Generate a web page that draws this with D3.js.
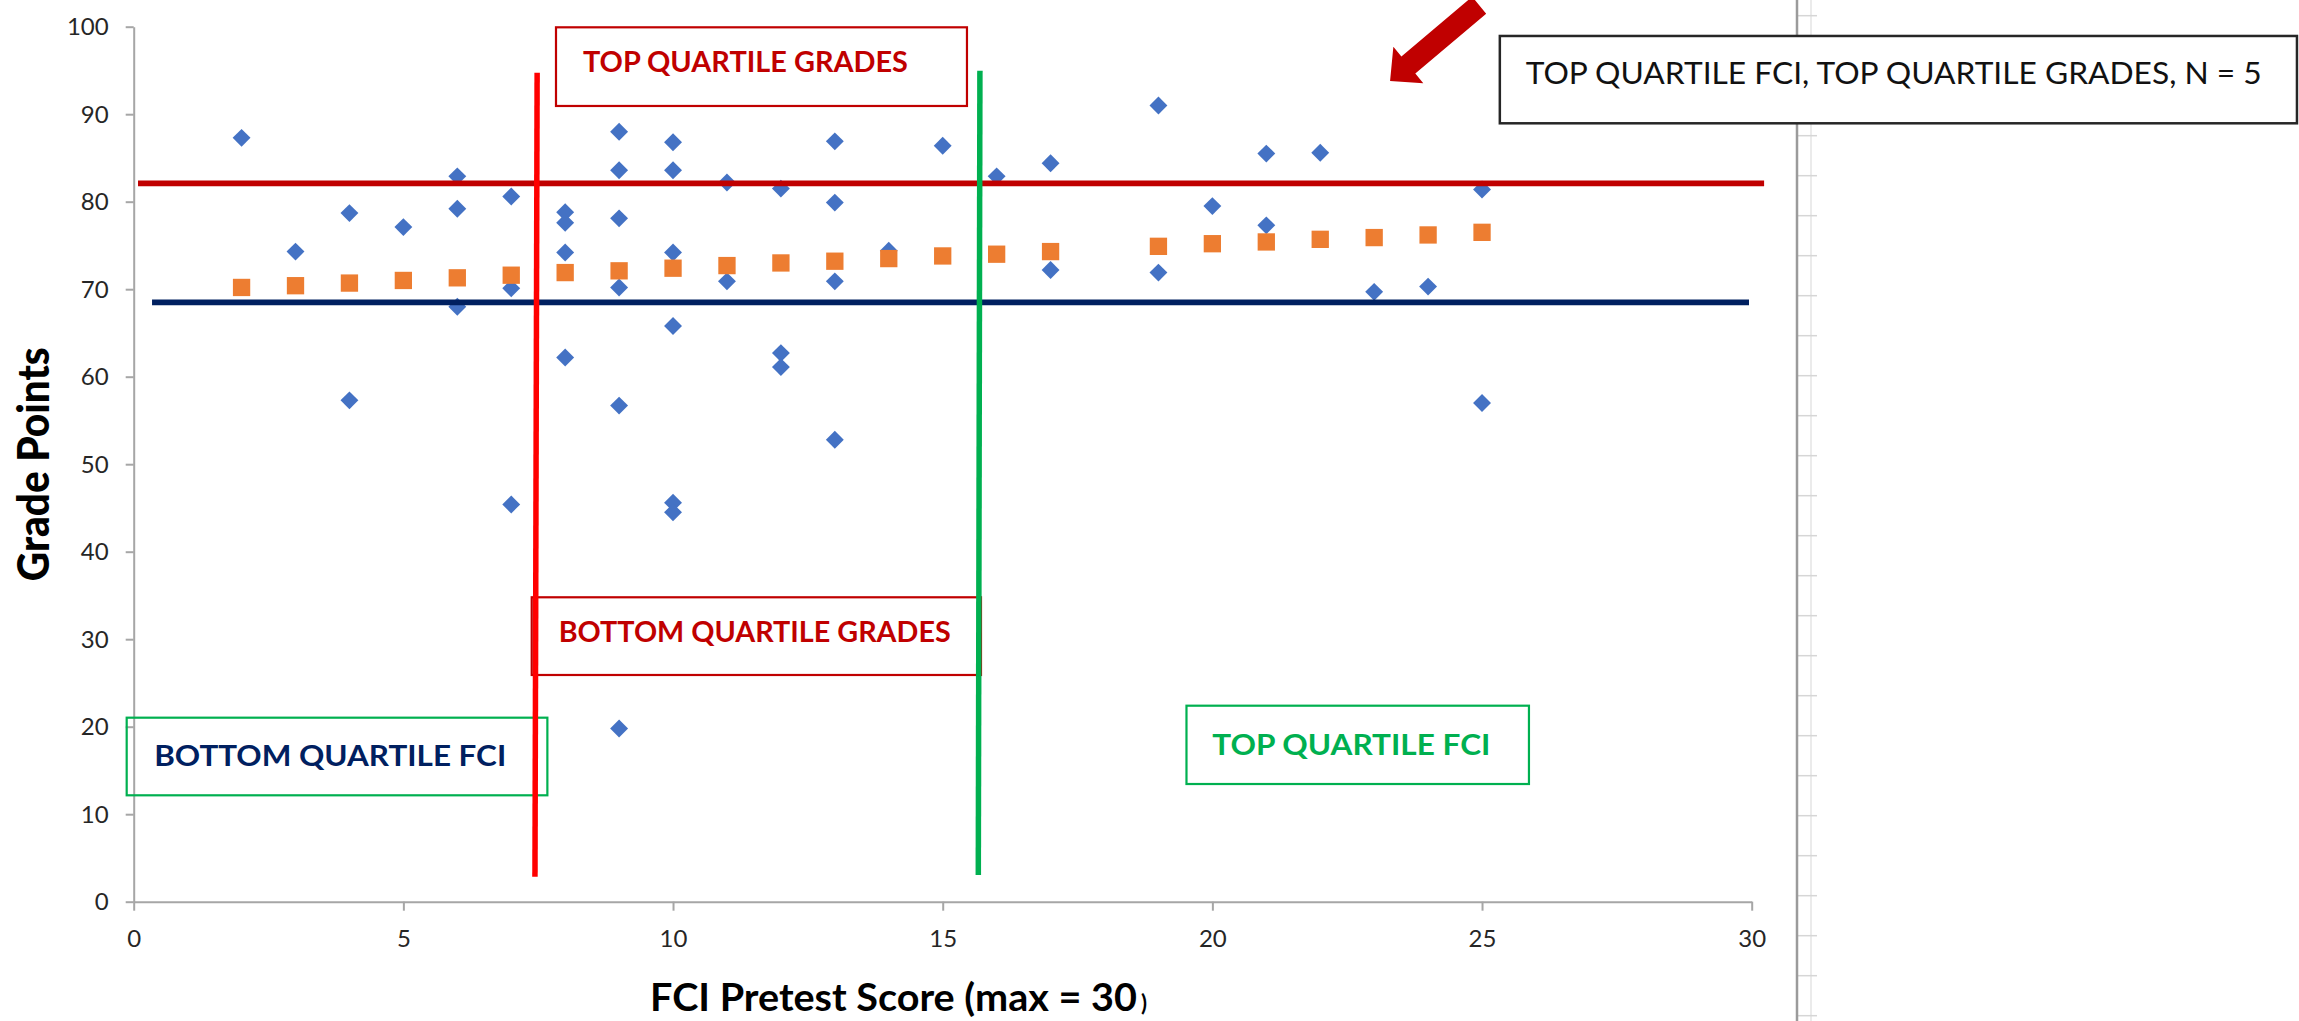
<!DOCTYPE html>
<html>
<head>
<meta charset="utf-8">
<script src="https://cdn.jsdelivr.net/npm/d3@7"></script>
<style>
  html, body { margin: 0; padding: 0; background: #ffffff; }
  svg { display: block; }
</style>
</head>
<body>
<svg id="chart" width="2299" height="1021"></svg>
<script>
// FCI pretest score and course grade points, one entry per student
const fciScores = [2,3,4,4,5,6,6,6,7,7,7,8,8,8,8,9,9,9,9,9,9,10,10,10,10,10,10,11,11,12,12,12,13,13,13,13,14,15,16,17,17,19,19,20,21,21,22,23,24,25,25];
const gradePoints = [87.3,74.3,78.7,57.3,77.1,82.9,79.2,68.0,80.6,70.1,45.4,78.8,77.6,74.2,62.2,88.0,83.6,78.1,70.2,56.7,19.8,86.8,83.6,74.2,65.8,45.6,44.5,82.2,70.9,81.5,62.7,61.1,86.9,79.9,70.9,52.8,74.4,86.4,82.9,84.4,72.2,91.0,71.9,79.5,85.5,77.3,85.6,69.7,70.3,81.4,57.0];

// Linear-fit grade at each observed pretest score
const trendScores = [2,3,4,5,6,7,8,9,10,11,12,13,14,15,16,17,19,20,21,22,23,24,25];
const trendGrades = [70.2,70.4,70.7,71.0,71.3,71.6,71.9,72.1,72.4,72.7,73.0,73.2,73.5,73.8,74.0,74.3,74.9,75.2,75.4,75.7,75.9,76.2,76.5];

// Quartile cut-offs: grades (top, bottom) and FCI pretest (bottom, top)
const gradeCutoffs = [82.1, 68.5];
const fciCutoffs = [7.48, 15.69];

// Axis ticks
const xTicks = [0, 5, 10, 15, 20, 25, 30];
const yTicks = [0, 10, 20, 30, 40, 50, 60, 70, 80, 90, 100];

// Text
const quadrantLabels = ["TOP QUARTILE GRADES", "BOTTOM QUARTILE GRADES", "BOTTOM QUARTILE FCI", "TOP QUARTILE FCI"];
const calloutLabel = "TOP QUARTILE FCI, TOP QUARTILE GRADES, N = 5";
const xTitle = ["FCI Pretest Score (max = 30", ")"];
const yTitle = "Grade Points";

const svg = d3.select("#chart");
const FONT = "Lato, 'Open Sans', sans-serif";

const x = d3.scaleLinear().domain([0, 30]).range([133.7, 1751.7]);
const y = d3.scaleLinear().domain([0, 100]).range([901.7, 26.7]);

// Worksheet edge to the right of the chart object
const sheet = svg.append("g");
sheet.append("line").attr("x1", 1811).attr("x2", 1811).attr("y1", 0).attr("y2", 1021)
  .attr("stroke", "#e4e4e4").attr("stroke-width", 1.5);
sheet.selectAll("line.row").data(d3.range(15.7, 1021, 40)).join("line").attr("class", "row")
  .attr("x1", 1797).attr("x2", 1817).attr("y1", d => d).attr("y2", d => d)
  .attr("stroke", "#d6d6d6").attr("stroke-width", 1.5);
sheet.append("line").attr("x1", 1797).attr("x2", 1797).attr("y1", 0).attr("y2", 1021)
  .attr("stroke", "#9b9b9b").attr("stroke-width", 2.5);

// Axes
const xAxis = svg.append("g").attr("transform", `translate(0,${y(0)})`)
  .call(d3.axisBottom(x).tickValues(xTicks).tickSize(9).tickSizeOuter(0).tickFormat(d3.format("d")));
const yAxis = svg.append("g").attr("transform", `translate(${x(0)},0)`)
  .call(d3.axisLeft(y).tickValues(yTicks).tickSize(8).tickSizeOuter(0).tickFormat(d3.format("d")));

[xAxis, yAxis].forEach(g => {
  g.select(".domain").attr("stroke", "#a6a6a6").attr("stroke-width", 2);
  g.selectAll(".tick line").attr("stroke", "#a6a6a6").attr("stroke-width", 2);
  g.selectAll(".tick text").attr("fill", "#262626").attr("font-family", FONT).attr("font-size", 24);
});
xAxis.selectAll(".tick text").attr("y", 45).attr("dy", 0);
yAxis.selectAll(".tick text").attr("x", -25).attr("dy", "0.34em");

// Student grades (blue diamonds)
const diamond = d3.symbol(d3.symbolSquare, 160);
svg.append("g").selectAll("path").data(fciScores).join("path")
  .attr("d", diamond)
  .attr("transform", (d, i) => `translate(${x(d)},${y(gradePoints[i])}) rotate(45)`)
  .attr("fill", "#4472c4");

// Trend (orange squares)
const square = d3.symbol(d3.symbolSquare, 300);
svg.append("g").selectAll("path").data(trendScores).join("path")
  .attr("d", square)
  .attr("transform", (d, i) => `translate(${x(d)},${y(trendGrades[i])})`)
  .attr("fill", "#ed7d31");

// Quadrant label boxes, placed in data units
const boxes = [
  { x0: 7.83, x1: 15.45, y0: 99.93, y1: 90.94, tx: 8.33, ty: 94.86, len: 325, stroke: "#c00000", color: "#c00000" },
  { x0: 7.38, x1: 15.71, y0: 34.79, y1: 25.91, tx: 7.88, ty: 29.65, len: 392, stroke: "#c00000", color: "#c00000" },
  { x0: -0.13, x1: 7.67, y0: 21.03, y1: 12.16, tx: 0.38, ty: 15.51, len: 352, stroke: "#00b050", color: "#002060" },
  { x0: 19.52, x1: 25.87, y0: 22.4, y1: 13.45, tx: 20.0, ty: 16.77, len: 278, stroke: "#00b050", color: "#00b050" }
];
const boxG = svg.append("g");
boxes.forEach((b, i) => {
  boxG.append("rect")
    .attr("x", x(b.x0)).attr("y", y(b.y0))
    .attr("width", x(b.x1) - x(b.x0)).attr("height", y(b.y1) - y(b.y0))
    .attr("fill", "none").attr("stroke", b.stroke).attr("stroke-width", 2.2);
  boxG.append("text")
    .attr("x", x(b.tx)).attr("y", y(b.ty))
    .attr("font-family", FONT).attr("font-weight", 700).attr("font-size", 29)
    .attr("fill", b.color)
    .attr("textLength", b.len).attr("lengthAdjust", "spacingAndGlyphs")
    .text(quadrantLabels[i]);
});

// Quartile cut-off lines
const lineG = svg.append("g").attr("stroke-linecap", "butt");
lineG.append("line")
  .attr("x1", x(0.08)).attr("x2", x(30.23)).attr("y1", y(gradeCutoffs[0])).attr("y2", y(gradeCutoffs[0]))
  .attr("stroke", "#c00000").attr("stroke-width", 5.7);
lineG.append("line")
  .attr("x1", x(0.34)).attr("x2", x(29.95)).attr("y1", y(gradeCutoffs[1])).attr("y2", y(gradeCutoffs[1]))
  .attr("stroke", "#002060").attr("stroke-width", 5.7);
lineG.append("line")
  .attr("x1", x(fciCutoffs[0])).attr("x2", x(fciCutoffs[0] - 0.04)).attr("y1", y(94.74)).attr("y2", y(2.86))
  .attr("stroke", "#ff0000").attr("stroke-width", 5.5);
lineG.append("line")
  .attr("x1", x(fciCutoffs[1])).attr("x2", x(fciCutoffs[1] - 0.03)).attr("y1", y(94.97)).attr("y2", y(3.05))
  .attr("stroke", "#00b050").attr("stroke-width", 5.5);

// Callout box and arrow
const callout = svg.append("g");
callout.append("rect")
  .attr("x", x(25.33)).attr("y", y(98.94))
  .attr("width", x(40.11) - x(25.33)).attr("height", y(88.96) - y(98.94))
  .attr("fill", "#ffffff").attr("stroke", "#262626").attr("stroke-width", 2.5);
callout.append("text")
  .attr("x", x(25.81)).attr("y", y(93.45))
  .attr("font-family", FONT).attr("font-size", 31).attr("fill", "#111111")
  .attr("textLength", 736).attr("lengthAdjust", "spacingAndGlyphs")
  .text(calloutLabel);

const arrowPts = [[23.295, 93.79], [23.356, 97.71], [23.505, 96.59], [24.817, 103.43],
                  [25.077, 101.49], [23.763, 94.65], [23.911, 93.53]];
callout.append("path")
  .attr("d", d3.line().x(p => x(p[0])).y(p => y(p[1]))(arrowPts) + "Z")
  .attr("fill", "#c00000");

// Axis titles
const xt = svg.append("text")
  .attr("x", 650).attr("y", 1011)
  .attr("font-family", FONT).attr("font-weight", 700).attr("fill", "#000000");
xt.append("tspan").attr("font-size", 39)
  .attr("textLength", 487).attr("lengthAdjust", "spacingAndGlyphs")
  .text(xTitle[0]);
xt.append("tspan").attr("font-size", 22).attr("dx", 4).text(xTitle[1]);

svg.append("text")
  .attr("transform", `translate(49,${(y(0) + y(100)) / 2}) rotate(-90)`)
  .attr("text-anchor", "middle")
  .attr("font-family", FONT).attr("font-weight", 900).attr("font-size", 43)
  .attr("fill", "#000000")
  .attr("textLength", 234).attr("lengthAdjust", "spacingAndGlyphs")
  .text(yTitle);
</script>
</body>
</html>
